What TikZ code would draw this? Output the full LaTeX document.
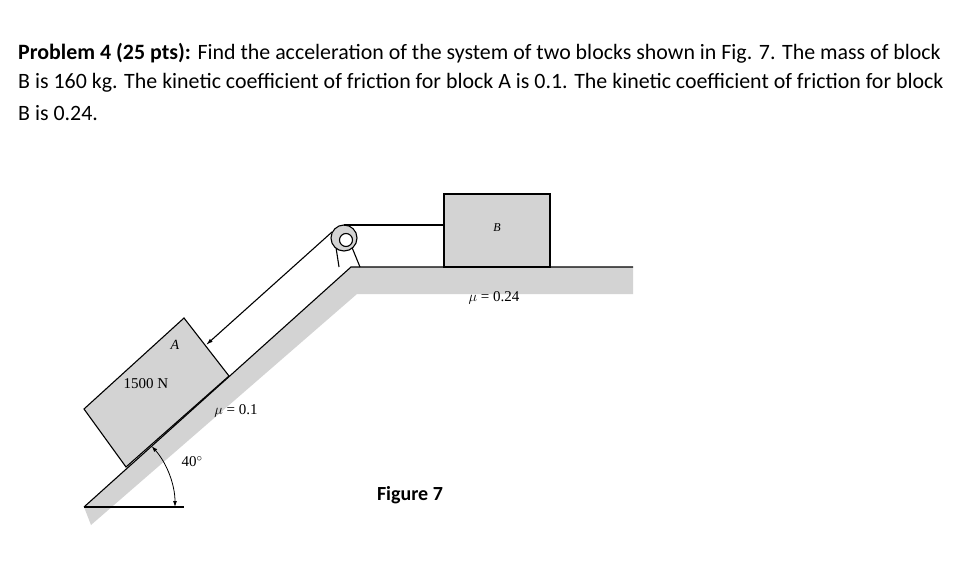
\documentclass[tikz,border=0pt]{standalone}
\usepackage{fontspec}
\setmainfont{Liberation Serif}
\newfontfamily\calfont{Carlito}
\usetikzlibrary{arrows.meta}
\definecolor{gry}{HTML}{D3D3D3}
\tikzset{ln/.style={line width=1.1pt},lab/.style={font=\fontsize{15}{15}\selectfont},hdr/.style={anchor=west,inner sep=0,font=\calfont\fontsize{21.9}{24}\selectfont}}
\begin{document}
\begin{tikzpicture}[x=1pt,y=-1pt]
\useasboundingbox (0,0) rectangle (967,586);
\node[hdr] (l1) at (18,53) {\textbf{Problem 4 (25 pts):} Find the acceleration of the system of two blocks shown in Fig. 7. The mass of block};
\node[hdr] (l2) at (18,83) {B is 160 kg. The kinetic coefficient of friction for block A is 0.1. The kinetic coefficient of friction for block};
\node[hdr] (l3) at (18,113) {B is 0.24.};
% ground
\fill[gry] (84,507) -- (351,267) -- (633,267) -- (633,294) -- (357,294) -- (91,525) -- cycle;
\draw[ln] (84,507) -- (351,267) -- (633,267);
% block B
\draw[ln,fill=gry] (444,267) rectangle (550,194);
\node[lab,font=\itshape\fontsize{12}{12}\selectfont] (B) at (497,228) {B};
% block A
\draw[ln,fill=gry] (126,467) -- (84,409) -- (184,318) -- (229,376) -- cycle;
\node[lab,font=\itshape\fontsize{14}{14}\selectfont] (A) at (175,345) {A};
\node[lab] (w) at (146,384) {1500 N};
% pulley
\draw[ln] (339,267) -- (335,241);
\draw[ln] (360,267) -- (351,245);
\draw[ln,fill=gry] (344,238) circle (13);
\draw[ln,fill=white] (346,240) circle (6.5);
\coordinate (pt) at (344,225);
\coordinate (pl) at (332,232);
\coordinate (ra) at (206,345);
\draw[ln] (pt) -- (444,225);
\draw[ln,-{Latex[length=7pt,width=4pt]}] (pl) -- (ra);
% angle
\coordinate (o) at (84,507);
\draw[ln] (o) -- (184,507);
\draw[line width=0.8pt,{Latex[length=6pt,width=4pt]}-{Latex[length=6pt,width=4pt]}] (175,507) arc[start angle=0,end angle=-42,radius=91];
\node[lab] (ang) at (192,462) {40$^\circ$};
\node[lab] (m1) at (236,411) {$\mu$ = 0.1};
\node[lab] (m2) at (494,298) {$\mu$ = 0.24};
\node[font=\calfont\bfseries\fontsize{20}{20}\selectfont] (fig) at (410,495) {Figure 7};
\end{tikzpicture}
\end{document}
